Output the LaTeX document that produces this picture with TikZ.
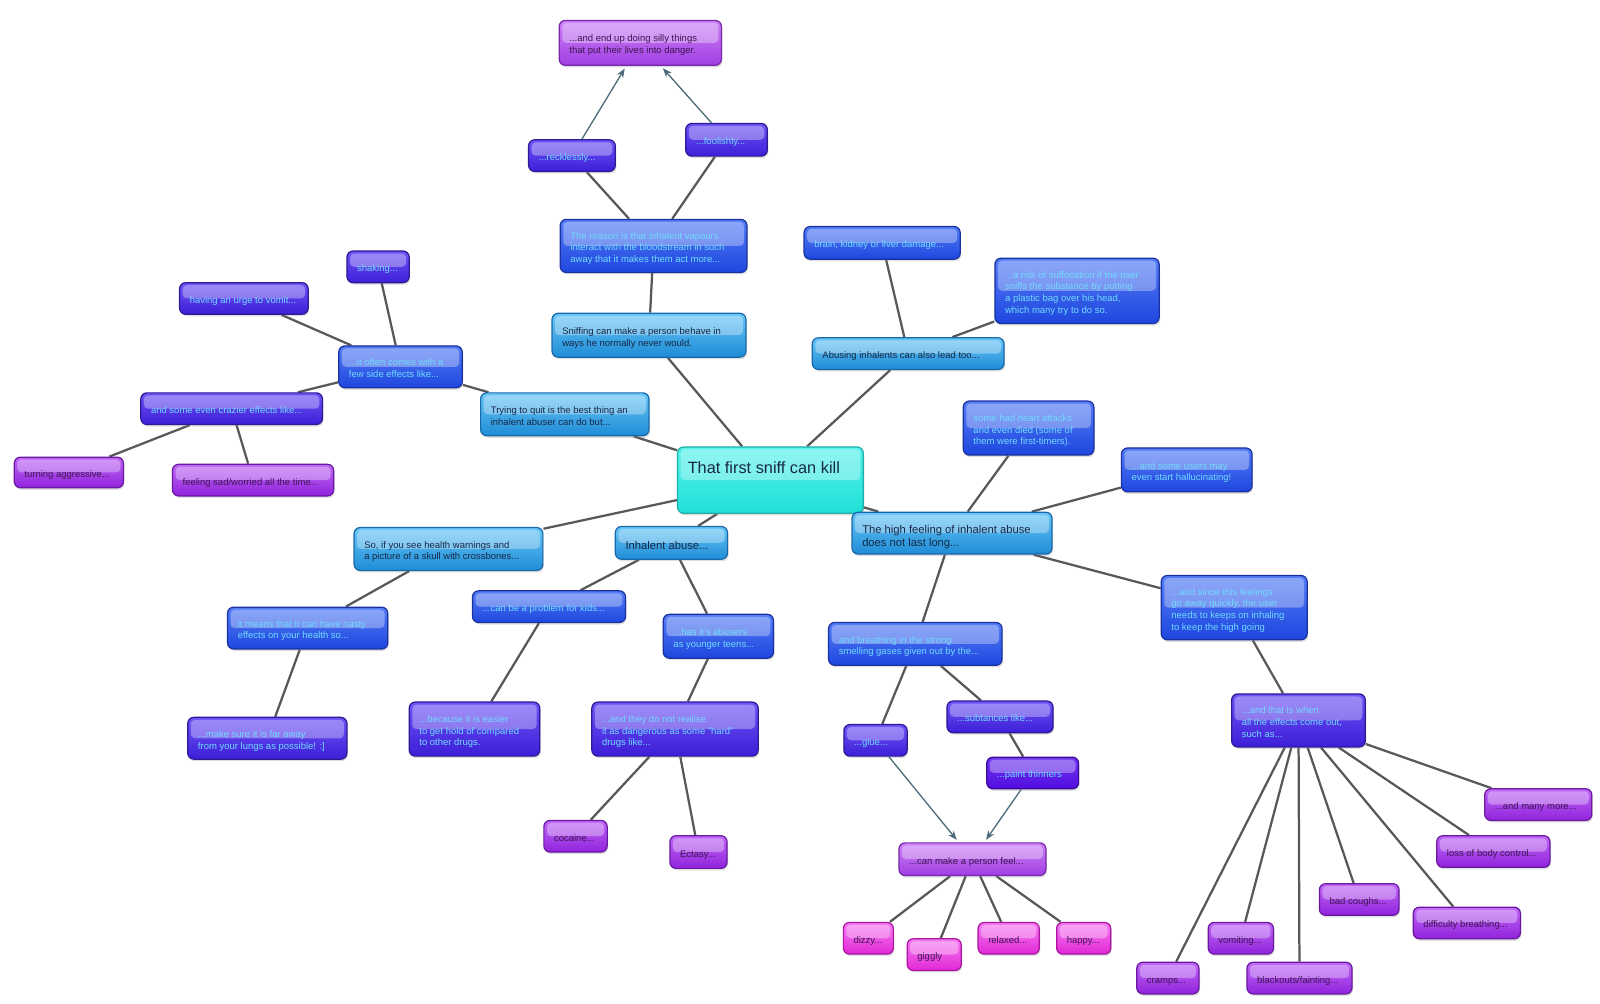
\documentclass[tikz,border=0pt]{standalone}
\usepackage{fontspec}
\setmainfont{Liberation Sans}
\usetikzlibrary{shadows,arrows.meta}
\pgfdeclarelayer{background}
\pgfsetlayers{background,main}
\definecolor{lbTop}{RGB}{105,198,246}
\definecolor{lbBot}{RGB}{30,140,215}
\definecolor{lbLine}{RGB}{25,105,170}
\definecolor{cyTop}{RGB}{90,242,236}
\definecolor{cyBot}{RGB}{30,224,214}
\definecolor{cyLine}{RGB}{30,175,170}
\definecolor{blTop}{RGB}{85,125,246}
\definecolor{blBot}{RGB}{30,70,222}
\definecolor{blLine}{RGB}{25,50,160}
\definecolor{viTop}{RGB}{112,84,246}
\definecolor{viBot}{RGB}{60,30,215}
\definecolor{viLine}{RGB}{45,25,150}
\definecolor{dvTop}{RGB}{112,56,242}
\definecolor{dvBot}{RGB}{82,12,222}
\definecolor{dvLine}{RGB}{60,10,150}
\definecolor{puTop}{RGB}{192,104,246}
\definecolor{puBot}{RGB}{145,35,220}
\definecolor{puLine}{RGB}{105,25,160}
\definecolor{lpTop}{RGB}{205,130,246}
\definecolor{lpBot}{RGB}{160,62,226}
\definecolor{lpLine}{RGB}{120,40,170}
\definecolor{mgTop}{RGB}{246,125,242}
\definecolor{mgBot}{RGB}{226,40,214}
\definecolor{mgLine}{RGB}{170,20,160}
\definecolor{darkTxt}{RGB}{22,40,68}
\definecolor{lightTxt}{RGB}{112,218,252}
\definecolor{purTxt}{RGB}{62,22,82}
\definecolor{linkC}{RGB}{88,88,88}
\definecolor{arrC}{RGB}{80,108,122}
\newcommand\tb[2]{\makebox[\dimexpr#1pt-20pt\relax][l]{\raisebox{-2.6pt}[\height][\depth]{\begin{tabular}{@{}l@{}}#2\end{tabular}}}}
\newcommand\tbb[2]{\makebox[\dimexpr#1pt-20pt\relax][l]{\raisebox{-4pt}[\height][\depth]{\begin{tabular}{@{}l@{}}#2\end{tabular}}}}
\tikzset{
  base/.style={rectangle, rounded corners=6pt, inner xsep=10pt, inner ysep=2pt,
    line width=1.2pt, minimum height=31,
    font=\fontsize{9.3}{11.5}\selectfont,
    drop shadow={shadow xshift=1pt,shadow yshift=-2pt,opacity=0.25},
    path picture={\fill[white,opacity=0.32,rounded corners=4pt]
      ([shift={(3pt,-2.5pt)}]path picture bounding box.north west) rectangle
      ([shift={(-3pt,0pt)}]path picture bounding box.east);}},
  lightblue/.style={base, draw=lbLine, top color=lbTop, bottom color=lbBot, text=darkTxt},
  cyanbox/.style={base, draw=cyLine, top color=cyTop, bottom color=cyBot, text=darkTxt},
  bluebox/.style={base, draw=blLine, top color=blTop, bottom color=blBot, text=lightTxt},
  violetbox/.style={base, draw=viLine, top color=viTop, bottom color=viBot, text=lightTxt},
  deepviolet/.style={base, draw=dvLine, top color=dvTop, bottom color=dvBot, text=lightTxt},
  purplebox/.style={base, draw=puLine, top color=puTop, bottom color=puBot, text=purTxt},
  lpurple/.style={base, draw=lpLine, top color=lpTop, bottom color=lpBot, text=purTxt},
  magentabox/.style={base, draw=mgLine, top color=mgTop, bottom color=mgBot, text=purTxt},
  bigtext/.style={font=\fontsize{11}{13.5}\selectfont},
  link/.style={draw=linkC, line width=2.2pt},
  arr/.style={draw=arrC, line width=1.3pt, -{Stealth[length=9pt,width=7pt]}, shorten >=3pt},
}
\begin{document}
\begin{tikzpicture}[x=1pt,y=-1pt]
\useasboundingbox (0,0) rectangle (1568,983);
% top branch
\node[lpurple, minimum height=44] (danger) at (627.5,42) {\tb{159}{...and end up doing silly things\\that put their lives into danger.}};
\node[violetbox] (reckless) at (560.5,152.5) {\tb{85}{...recklessly...}};
\node[violetbox, minimum height=32] (foolish) at (712,137) {\tb{80}{...foolishly...}};
\node[bluebox, minimum height=52] (reason) at (640.5,241) {\tb{183}{The reason is that inhalent vapours\\interact with the bloodstream in such\\away that it makes them act more...}};
\node[lightblue, minimum height=43] (sniffing) at (636,328.5) {\tb{190}{Sniffing can make a person behave in\\ways he normally never would.}};
% centre
\node[cyanbox, minimum height=65, font=\fontsize{16}{19}\selectfont] (center) at (755,470.5) {\rule[-25pt]{0pt}{0pt}\makebox[162pt][l]{That first sniff can kill}};
% upper right
\node[lightblue] (abusing) at (890,346.5) {\tb{188}{Abusing inhalents can also lead too...}};
\node[bluebox, minimum height=32] (brain) at (864.5,238) {\tb{153}{brain, kidney or liver damage...}};
\node[bluebox, minimum height=64] (suffoc) at (1055.5,285) {\tb{161}{...a risk of suffocation if the user\\sniffs the substance by putting\\a plastic bag over his head,\\which many try to do so.}};
\node[bluebox, minimum height=53] (heart) at (1008,419.5) {\tb{128}{some had heart attacks\\and even died (some of\\them were first-timers).}};
\node[bluebox, minimum height=43] (halluc) at (1163,460.5) {\tb{128}{...and some users may\\even start hallucinating!}};
\node[lightblue, bigtext, minimum height=41] (high) at (933,522.5) {\tbb{196}{The high feeling of inhalent abuse\\does not last long...}};
% upper left
\node[lightblue, minimum height=42] (trying) at (553.5,406) {\tb{165}{Trying to quit is the best thing an\\inhalent abuser can do but...}};
\node[bluebox, minimum height=41] (sidefx) at (392.5,359.5) {\tb{121}{...it often comes with a\\few side effects like...}};
\node[violetbox] (shaking) at (370.5,261.5) {\tb{61}{shaking...}};
\node[violetbox] (vomit) at (239,292.5) {\tb{126}{having an urge to vomit...}};
\node[violetbox] (crazier) at (227,400.5) {\tb{178}{and some even crazier effects like...}};
\node[purplebox, minimum height=30] (aggressive) at (67.5,463) {\tb{107}{turning aggressive...}};
\node[purplebox] (sad) at (248,470.5) {\tb{158}{feeling sad/worried all the time...}};
% lower left
\node[lightblue, minimum height=42] (sowarn) at (439.5,538) {\tb{185}{So, if you see health warnings and\\a picture of a skull with crossbones...}};
\node[bluebox, minimum height=41] (means) at (301.5,615.5) {\tb{157}{it means that it can have nasty\\effects on your health so...}};
\node[violetbox, minimum height=41] (faraway) at (262,723.5) {\tb{156}{...make sure it is far away\\from your lungs as possible! :]}};
\node[lightblue, bigtext, minimum height=32] (inhalent) at (658,532) {\tbb{110}{Inhalent abuse...}};
\node[bluebox] (kids) at (538,594.5) {\tb{150}{...can be a problem for kids...}};
\node[bluebox, minimum height=43] (teens) at (704,623.5) {\tb{108}{...has it's abusers\\as younger teens...}};
\node[violetbox, minimum height=53] (easier) at (465,714.5) {\tb{128}{...because it is easier\\to get hold of compared\\to other drugs.}};
\node[violetbox, minimum height=53] (realise) at (661.5,714.5) {\tb{163}{...and they do not realise\\it as dangerous as some "hard"\\drugs like...}};
\node[purplebox] (cocaine) at (564,819.5) {\tb{62}{cocaine...}};
\node[purplebox, minimum height=32] (ectasy) at (684.5,835) {\tb{56}{Ectasy...}};
% lower middle
\node[bluebox, minimum height=42] (breathing) at (897,631) {\tb{170}{and breathing in the strong\\smelling gases given out by the...}};
\node[violetbox] (glue) at (858,725.5) {\tb{62}{...glue...}};
\node[violetbox] (subt) at (980,702.5) {\tb{104}{...subtances like...}};
\node[deepviolet] (paint) at (1012,757.5) {\tb{90}{...paint thinners}};
\node[lpurple, minimum height=32] (feel) at (953,842) {\tb{144}{...can make a person feel...}};
\node[magentabox] (dizzy) at (851,919.5) {\tb{49}{dizzy...}};
\node[magentabox] (giggly) at (915.5,935.5) {\tb{53}{giggly}};
\node[magentabox] (relaxed) at (988.5,919.5) {\tb{60}{relaxed...}};
\node[magentabox] (happy) at (1062,919.5) {\tb{53}{happy...}};
% lower right
\node[bluebox, minimum height=63] (since) at (1209.5,595.5) {\tb{143}{...and since this feelings\\go away quickly, the user\\needs to keeps on inhaling\\to keep the high going}};
\node[violetbox, minimum height=52] (when) at (1272.5,706) {\tb{131}{...and that is when\\all the effects come out,\\such as...}};
\node[purplebox] (many) at (1507.5,788.5) {\tb{105}{...and many more...}};
\node[purplebox] (loss) at (1463.5,834.5) {\tb{111}{loss of body control...}};
\node[purplebox] (coughs) at (1332,881.5) {\tb{78}{bad coughs...}};
\node[purplebox] (difficulty) at (1437.5,904.5) {\tb{105}{difficulty breathing...}};
\node[purplebox] (vomiting) at (1216,919.5) {\tb{64}{vomiting...}};
\node[purplebox] (cramps) at (1144.5,958.5) {\tb{61}{cramps...}};
\node[purplebox] (blackouts) at (1273.5,958.5) {\tb{103}{blackouts/fainting...}};
\begin{pgfonlayer}{background}
\fill[white] (0,0) rectangle (1568,983);
\draw[link] (center) -- (sniffing);
\draw[link] (sniffing) -- (reason);
\draw[link] (reason) -- (reckless);
\draw[link] (reason) -- (foolish);
\draw[link] (center) -- (abusing);
\draw[link] (abusing) -- (brain);
\draw[link] (abusing) -- (suffoc);
\draw[link] (center) -- (trying);
\draw[link] (trying) -- (sidefx);
\draw[link] (sidefx) -- (shaking);
\draw[link] (sidefx) -- (vomit);
\draw[link] (sidefx) -- (crazier);
\draw[link] (crazier) -- (aggressive);
\draw[link] (crazier) -- (sad);
\draw[link] (center) -- (sowarn);
\draw[link] (sowarn) -- (means);
\draw[link] (means) -- (faraway);
\draw[link] (center) -- (inhalent);
\draw[link] (inhalent) -- (kids);
\draw[link] (inhalent) -- (teens);
\draw[link] (kids) -- (easier);
\draw[link] (teens) -- (realise);
\draw[link] (realise) -- (cocaine);
\draw[link] (realise) -- (ectasy);
\draw[link] (center) -- (high);
\draw[link] (high) -- (heart);
\draw[link] (high) -- (halluc);
\draw[link] (high) -- (breathing);
\draw[link] (high) -- (since);
\draw[link] (breathing) -- (glue);
\draw[link] (breathing) -- (subt);
\draw[link] (subt) -- (paint);
\draw[link] (feel) -- (dizzy);
\draw[link] (feel) -- (giggly);
\draw[link] (feel) -- (relaxed);
\draw[link] (feel) -- (happy);
\draw[link] (since) -- (when);
\draw[link] (when) -- (cramps);
\draw[link] (when) -- (vomiting);
\draw[link] (when) -- (blackouts);
\draw[link] (when) -- (coughs);
\draw[link] (when) -- (difficulty);
\draw[link] (when) -- (loss);
\draw[link] (when) -- (many);
\end{pgfonlayer}
\draw[arr] (reckless) -- (danger);
\draw[arr] (foolish) -- (danger);
\draw[arr] (glue) -- (feel);
\draw[arr] (paint) -- (feel);
\end{tikzpicture}
\end{document}
